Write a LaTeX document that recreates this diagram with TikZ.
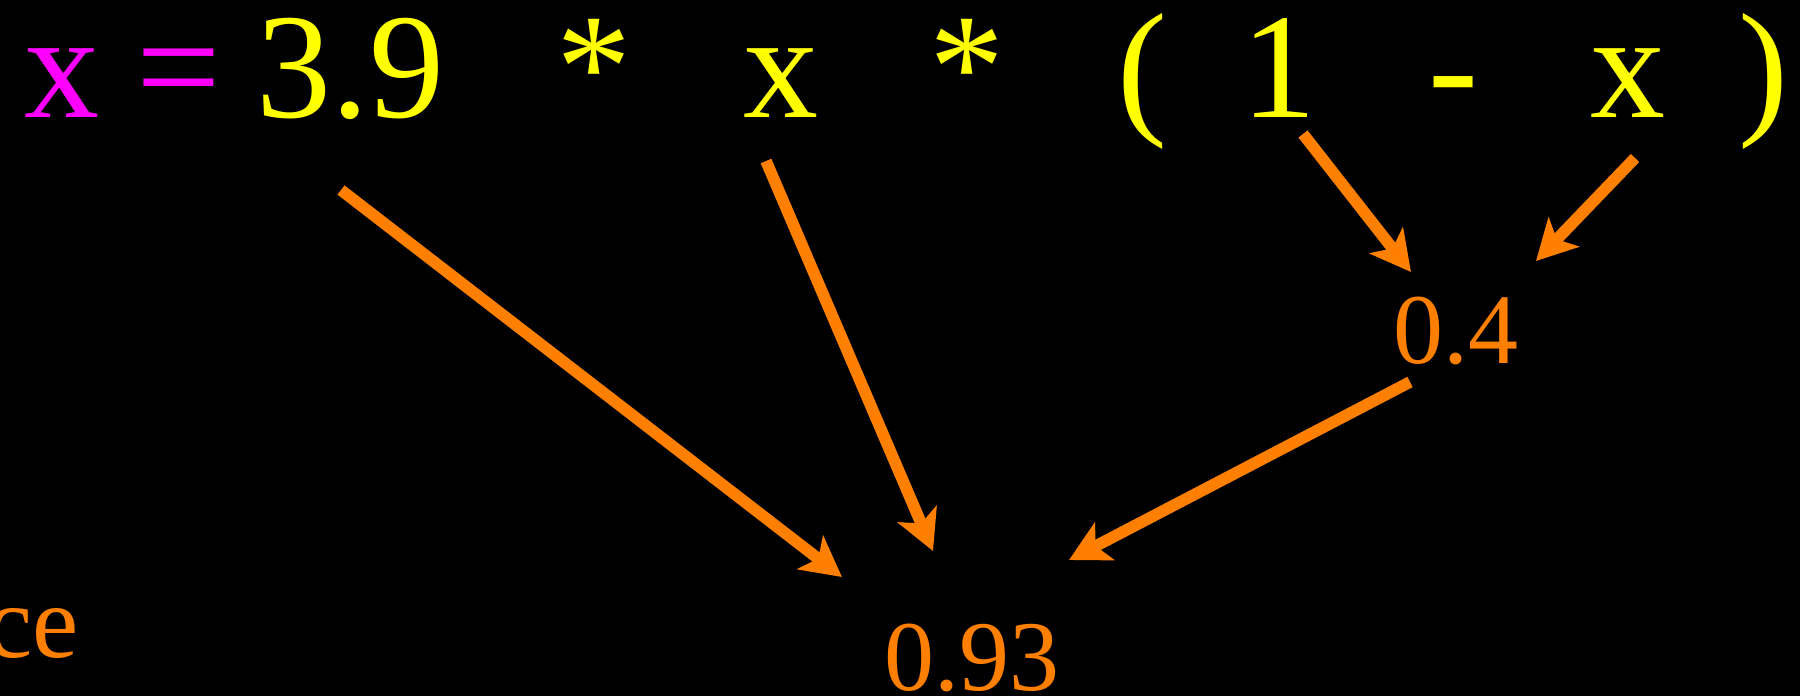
\documentclass[tikz,border=0pt]{standalone}
\usepackage{fontspec}
\setmainfont{Liberation Serif}
\usetikzlibrary{arrows.meta}
\definecolor{mag}{RGB}{255,0,255}
\definecolor{yel}{RGB}{255,255,0}
\definecolor{org}{RGB}{255,128,0}
\begin{document}
\begin{tikzpicture}[x=0.5pt,y=-0.5pt,
  eq/.style={anchor=base,inner sep=0pt,font=\fontsize{75}{90}\selectfont,text=yel},
  val/.style={anchor=base,inner sep=0pt,font=\fontsize{50}{60}\selectfont,text=org},
  flow/.style={draw=org,line width=5.8pt,-{Stealth[length=20pt,width=21pt,inset=5pt]}}]
\fill[black] (0,0) rectangle (1800,696);
\useasboundingbox (0,0) rectangle (1800,696);
% equation tokens
\node[eq,text=mag] (lhs) at (62,117) {x};
\node[eq,text=mag] (eqs) at (178.5,117) {=};
\node[eq] (c39) at (350.5,117) {3.9};
\node[eq] (m1) at (594,117) {*};
\node[eq] (x1) at (781,117) {x};
\node[eq] (m2) at (967,117) {*};
\node[eq] (lp) at (1142.5,117) {(};
\node[eq] (one) at (1278.5,117) {1};
\node[eq] (minus) at (1453,117) {-};
\node[eq] (x2) at (1627.5,117) {x};
\node[eq] (rp) at (1763,117) {)};
% values
\node[val] (v04) at (1456,363) {0.4};
\node[val] (v093) at (971.5,690) {0.93};
\node[val,anchor=base east,font=\fontsize{52}{60}\selectfont] (ce) at (79,657) {ce};
% connector end points
\coordinate (s1) at (341,190);
\coordinate (e1) at (842,577);
\coordinate (s2) at (766,161);
\coordinate (e2) at (933,551);
\coordinate (s3) at (1410,382);
\coordinate (e3) at (1069,560);
\coordinate (s4) at (1303,134);
\coordinate (e4) at (1411,272);
\coordinate (s5) at (1635,158);
\coordinate (e5) at (1536,261);
\draw[flow] (s1) -- (e1);
\draw[flow] (s2) -- (e2);
\draw[flow] (s3) -- (e3);
\draw[flow] (s4) -- (e4);
\draw[flow] (s5) -- (e5);
\end{tikzpicture}
\end{document}
